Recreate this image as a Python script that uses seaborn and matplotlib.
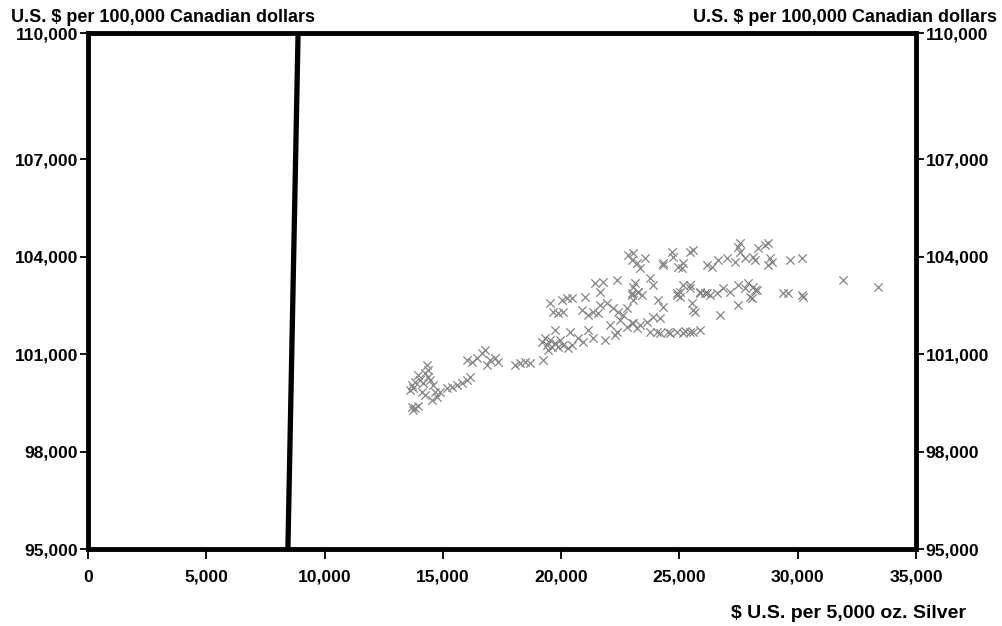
import numpy as np
import pandas as pd
import matplotlib
matplotlib.use('Agg')
import matplotlib.pyplot as plt
import seaborn as sns

# silver price (x) vs. CAD futures value (y)
silver = [
    13700, 13820, 13950, 13740,
    14330, 14370, 14250, 14030, 13820, 13700, 14460, 14580, 13740, 13610, 14160, 14370,
    13950, 14120, 14670, 14250,
    14540, 14750, 14880, 15180, 15390, 15600, 15810, 16020, 16150,
    16020, 16230, 16440, 16650, 16780, 16870, 16990, 17200, 17330,
    18050, 18260, 18470, 18680, 19230,
    19190, 19400, 19610, 19740, 19870, 20080, 20290, 20460, 19530, 19320, 19450, 19950,
    19740, 20370, 20710, 20920, 21140, 21350, 21850,
    19530, 20040, 20250, 20460, 21010, 19660, 19870, 20080,
    20880, 21140, 21350, 21560, 21640, 21940, 22190, 22400, 22610, 22780, 23040,
    21430, 21770, 22360, 21640,
    22070, 22360, 22490, 22780, 23000, 23210, 22280,
    22830, 23000, 23210, 23120, 23250, 23000,
    23760, 24180, 24520, 24900, 25240, 25570, 25870,
    25570, 24900, 25020, 25450, 25870, 26170, 24310, 25150, 26170,
    23040, 23540, 24690, 24730, 24940, 25110, 25450, 25570, 26380, 26630, 27010,
    27350, 27560, 27770, 28110, 28320, 28190, 27480, 27560, 24310, 23330,
    23040, 23250, 23420, 23000, 23760, 23880, 24900, 25020, 25150, 25450, 25870,
    26080, 26290, 26590, 26840, 27140, 27480, 27770, 27980, 28190, 27900,
    24090, 24310, 25530, 25660, 26720, 27480,
    23040, 23330, 23630, 24050, 24600, 25150, 25450, 23880, 24180,
    28620, 28740, 28830, 28910, 28740, 29670, 30180, 31910, 33390,
    28110, 28280, 28070, 29380, 29590, 30180, 30220,
]
cad = [
    99370, 99340, 99400, 99280,
    100660, 100510, 100420, 100200, 100140, 100050, 100200, 100050, 99950, 99890, 100110, 100290,
    100350, 99830, 99830, 99740,
    99590, 99680, 99830, 99950, 99990, 100050, 100110, 100200, 100290,
    100820, 100750, 100880, 101030, 101120, 100660, 100820, 100880, 100750,
    100660, 100720, 100750, 100720, 100820,
    101370, 101280, 101220, 101340, 101220, 101280, 101190, 101280, 101430, 101490, 101120, 101430,
    101740, 101680, 101490, 101370, 101740, 101490, 101430,
    102570, 102660, 102720, 102720, 102750, 102290, 102260, 102290,
    102350, 102200, 102290, 102260, 102510, 102570, 102420, 102290, 102200, 102420, 102660,
    103190, 103220, 103280, 102910,
    101890, 101680, 102050, 101830, 101950, 101800, 101590,
    104050, 103890, 103800, 103190, 102910, 102820,
    101680, 101650, 101680, 101680, 101710, 101680, 101740,
    102350, 102880, 102750, 103120, 102880, 102880, 103800, 103800, 103740,
    104110, 103950, 104140, 103990, 103680, 103650, 104140, 104200, 103680, 103890, 103950,
    103830, 104140, 103950, 103990, 104260, 103890, 104290, 104420, 103740, 103650,
    103060, 102910, 102820, 102880, 103340, 103120, 102820, 102910, 103120, 103030, 102910,
    102880, 102820, 102880, 103030, 102910, 103120, 103030, 102750, 102970, 103190,
    102660, 102450, 102570, 102290, 102200, 102510,
    101950, 101890, 101990, 101680, 101650, 101650, 101680, 102140, 102110,
    104350, 104420, 103950, 103830, 103740, 103890, 103950, 103280, 103060,
    103060, 102970, 102720, 102880, 102880, 102820, 102750,
]

# the heavy slanted bar drawn across the chart
bar_x = [8450, 8880]
bar_y = [95000, 110880]

x_ticks = [0, 5000, 10000, 15000, 20000, 25000, 30000, 35000]
y_ticks = [95000, 98000, 101000, 104000, 107000, 110880]
y_tick_labels = ['95,000', '98,000', '101,000', '104,000', '107,000', '110,000']

df = pd.DataFrame({'silver': silver, 'cad': cad})

sns.set_style('white')
plt.rcParams['font.family'] = ['Liberation Sans', 'DejaVu Sans']
plt.rcParams['text.color'] = 'black'
plt.rcParams['xtick.color'] = 'black'
plt.rcParams['ytick.color'] = 'black'

fig = plt.figure(figsize=(10.02, 6.26), dpi=100)
ax = fig.add_axes([88 / 1002, 1 - 549 / 626, 828 / 1002, 516 / 626])

sns.scatterplot(data=df, x='silver', y='cad', marker='x', color='#858585',
                s=36, linewidth=0.9, ax=ax)
sns.lineplot(x=bar_x, y=bar_y, color='black', linewidth=3.8, ax=ax)

ax.set_xlim(0, 35000)
ax.set_ylim(95000, 110880)
ax.set_xticks(x_ticks)
ax.set_xticklabels([f'{v:,}' for v in x_ticks], fontweight='bold', fontsize=12.6)
ax.set_yticks(y_ticks)
ax.set_yticklabels(y_tick_labels, fontweight='bold', fontsize=12.6)
ax.tick_params(axis='y', which='both', left=True, right=True, labelleft=True,
               labelright=True, direction='out', length=6, width=1.3, pad=1)
ax.tick_params(axis='x', bottom=True, direction='out', length=7, width=1.3, pad=8)
ax.set_xlabel('')
ax.set_ylabel('')

for side in ['left', 'right', 'top', 'bottom']:
    ax.spines[side].set_visible(True)
    ax.spines[side].set_linewidth(3.5)
    ax.spines[side].set_color('black')

fig.text(11 / 1002, 1 - 17 / 626, 'U.S. $ per 100,000 Canadian dollars',
         fontsize=13, fontweight='bold', ha='left', va='center')
fig.text(997 / 1002, 1 - 17 / 626, 'U.S. $ per 100,000 Canadian dollars',
         fontsize=13, fontweight='bold', ha='right', va='center')
fig.text(966 / 1002, 1 - 613 / 626, '$ U.S. per 5,000 oz. Silver',
         fontsize=14, fontweight='bold', ha='right', va='center')

fig.savefig('out.png', dpi=100)
